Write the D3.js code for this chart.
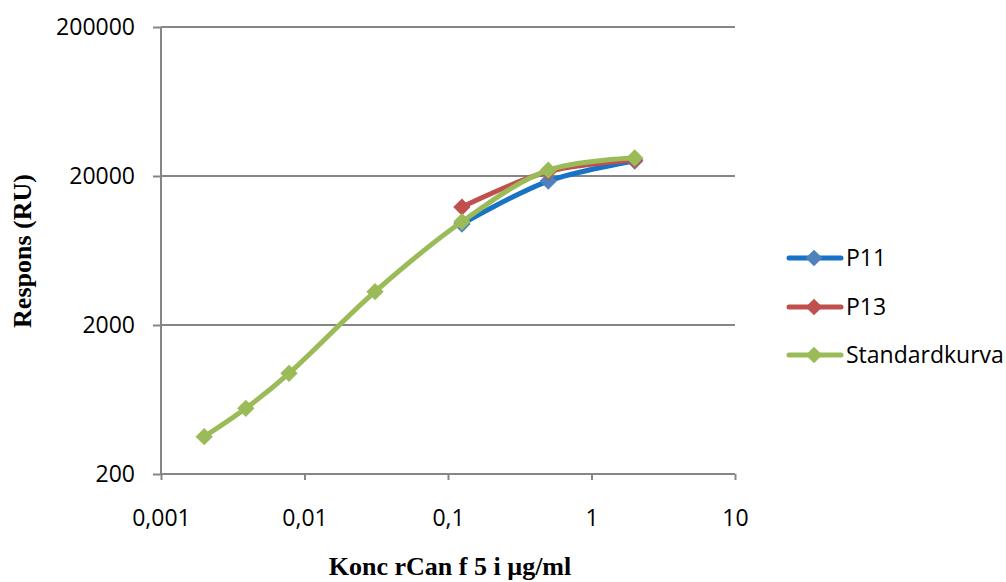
<!DOCTYPE html>
<html>
<head>
<meta charset="utf-8">
<script src="https://cdn.jsdelivr.net/npm/d3@7"></script>
<style>
  html, body { margin: 0; padding: 0; background: #fff; }
  svg { display: block; }
</style>
</head>
<body>
<svg id="chart" width="1006" height="582"></svg>
<script>
// Concentration (µg/ml) for each dilution step
const concStd = [0.002, 0.0039, 0.0078, 0.031, 0.125, 0.5, 2];
const concSample = [0.125, 0.5, 2];

// Response (RU)
const standardkurva = [356, 552, 948, 3346, 9866, 21900, 26400];
const p11 = [9520, 18500, 25200];
const p13 = [12380, 21440, 25600];

const xTicks = [0.001, 0.01, 0.1, 1, 10];
const xTickLabels = ["0,001", "0,01", "0,1", "1", "10"];
const yTicks = [200, 2000, 20000, 200000];
const yTickLabels = ["200", "2000", "20000", "200000"];

const seriesNames = ["P11", "P13", "Standardkurva"];

const series = [
  { name: seriesNames[0], x: concSample, y: p11, line: "#1872C6", marker: "#4F81BD" },
  { name: seriesNames[1], x: concSample, y: p13, line: "#C0504D", marker: "#C0504D" },
  { name: seriesNames[2], x: concStd, y: standardkurva, line: "#9BBB59", marker: "#9BBB59" }
];

const svg = d3.select("#chart");
const plot = { left: 161, right: 735, top: 27, bottom: 474 };

const x = d3.scaleLog().domain([0.001, 10]).range([plot.left, plot.right]);
const y = d3.scaleLog().domain([200, 200000]).range([plot.bottom, plot.top]);

const axisColor = "#868686";
const tickFont = "'Open Sans', 'Liberation Sans', sans-serif";

// Horizontal gridlines
svg.append("g")
  .selectAll("line")
  .data(yTicks.slice(1))
  .join("line")
  .attr("x1", plot.left).attr("x2", plot.right)
  .attr("y1", d => y(d)).attr("y2", d => y(d))
  .attr("stroke", axisColor).attr("stroke-width", 2);

// Y axis
const yAxis = d3.axisLeft(y)
  .tickValues(yTicks)
  .tickFormat((d, i) => yTickLabels[i])
  .tickSize(8)
  .tickPadding(18);
const gy = svg.append("g").attr("transform", `translate(${plot.left},0)`).call(yAxis);
gy.select(".domain").attr("stroke", axisColor).attr("stroke-width", 2)
  .attr("d", `M0,${plot.top}V${plot.bottom}`);
gy.selectAll(".tick line").attr("stroke", axisColor).attr("stroke-width", 2);
gy.selectAll(".tick text")
  .attr("fill", "#000")
  .style("font-family", tickFont)
  .style("font-size", "23px");

// X axis
const xAxis = d3.axisBottom(x)
  .tickValues(xTicks)
  .tickFormat((d, i) => xTickLabels[i])
  .tickSize(6)
  .tickPadding(30);
const gx = svg.append("g").attr("transform", `translate(0,${plot.bottom})`).call(xAxis);
gx.select(".domain").attr("stroke", axisColor).attr("stroke-width", 2)
  .attr("d", `M${plot.left},0H${plot.right}`);
gx.selectAll(".tick line").attr("stroke", axisColor).attr("stroke-width", 2);
gx.selectAll(".tick text")
  .attr("fill", "#000")
  .style("font-family", tickFont)
  .style("font-size", "23px");

// Axis titles
svg.append("text")
  .attr("x", 450).attr("y", 575)
  .attr("text-anchor", "middle")
  .style("font-family", "'Liberation Serif', 'Times New Roman', serif")
  .style("font-weight", "bold")
  .style("font-size", "26px")
  .text("Konc rCan f 5 i µg/ml");

svg.append("text")
  .attr("transform", "translate(31,251) rotate(-90)")
  .attr("text-anchor", "middle")
  .style("font-family", "'Liberation Serif', 'Times New Roman', serif")
  .style("font-weight", "bold")
  .style("font-size", "26px")
  .text("Respons (RU)");

// Diamond marker (square rotated 45°)
const diamond = d3.symbol().type(d3.symbolSquare).size(150);

const line = d3.line()
  .x(d => x(d[0]))
  .y(d => y(d[1]))
  .curve(d3.curveCatmullRom.alpha(0.5));

series.forEach(s => {
  const pts = s.x.map((v, i) => [v, s.y[i]]);
  const g = svg.append("g");
  g.append("path")
    .datum(pts)
    .attr("d", line)
    .attr("fill", "none")
    .attr("stroke", s.line)
    .attr("stroke-width", 5)
    .attr("stroke-linecap", "round")
    .attr("stroke-linejoin", "round");
  g.selectAll("path.m")
    .data(pts)
    .join("path")
    .attr("class", "m")
    .attr("d", diamond)
    .attr("transform", d => `translate(${x(d[0])},${y(d[1])}) rotate(45)`)
    .attr("fill", s.marker);
});

// Legend
const legend = svg.append("g");
const legendRows = [258, 307, 355];
series.forEach((s, i) => {
  const ly = legendRows[i];
  legend.append("line")
    .attr("x1", 789).attr("x2", 841)
    .attr("y1", ly).attr("y2", ly)
    .attr("stroke", s.line)
    .attr("stroke-width", 5)
    .attr("stroke-linecap", "round");
  legend.append("path")
    .attr("d", d3.symbol().type(d3.symbolSquare).size(140))
    .attr("transform", `translate(814,${ly}) rotate(45)`)
    .attr("fill", s.marker);
  legend.append("text")
    .attr("x", 846).attr("y", ly)
    .attr("dy", "0.36em")
    .style("font-family", tickFont)
    .style("font-size", "23px")
    .attr("fill", "#000")
    .text(s.name);
});
</script>
</body>
</html>
